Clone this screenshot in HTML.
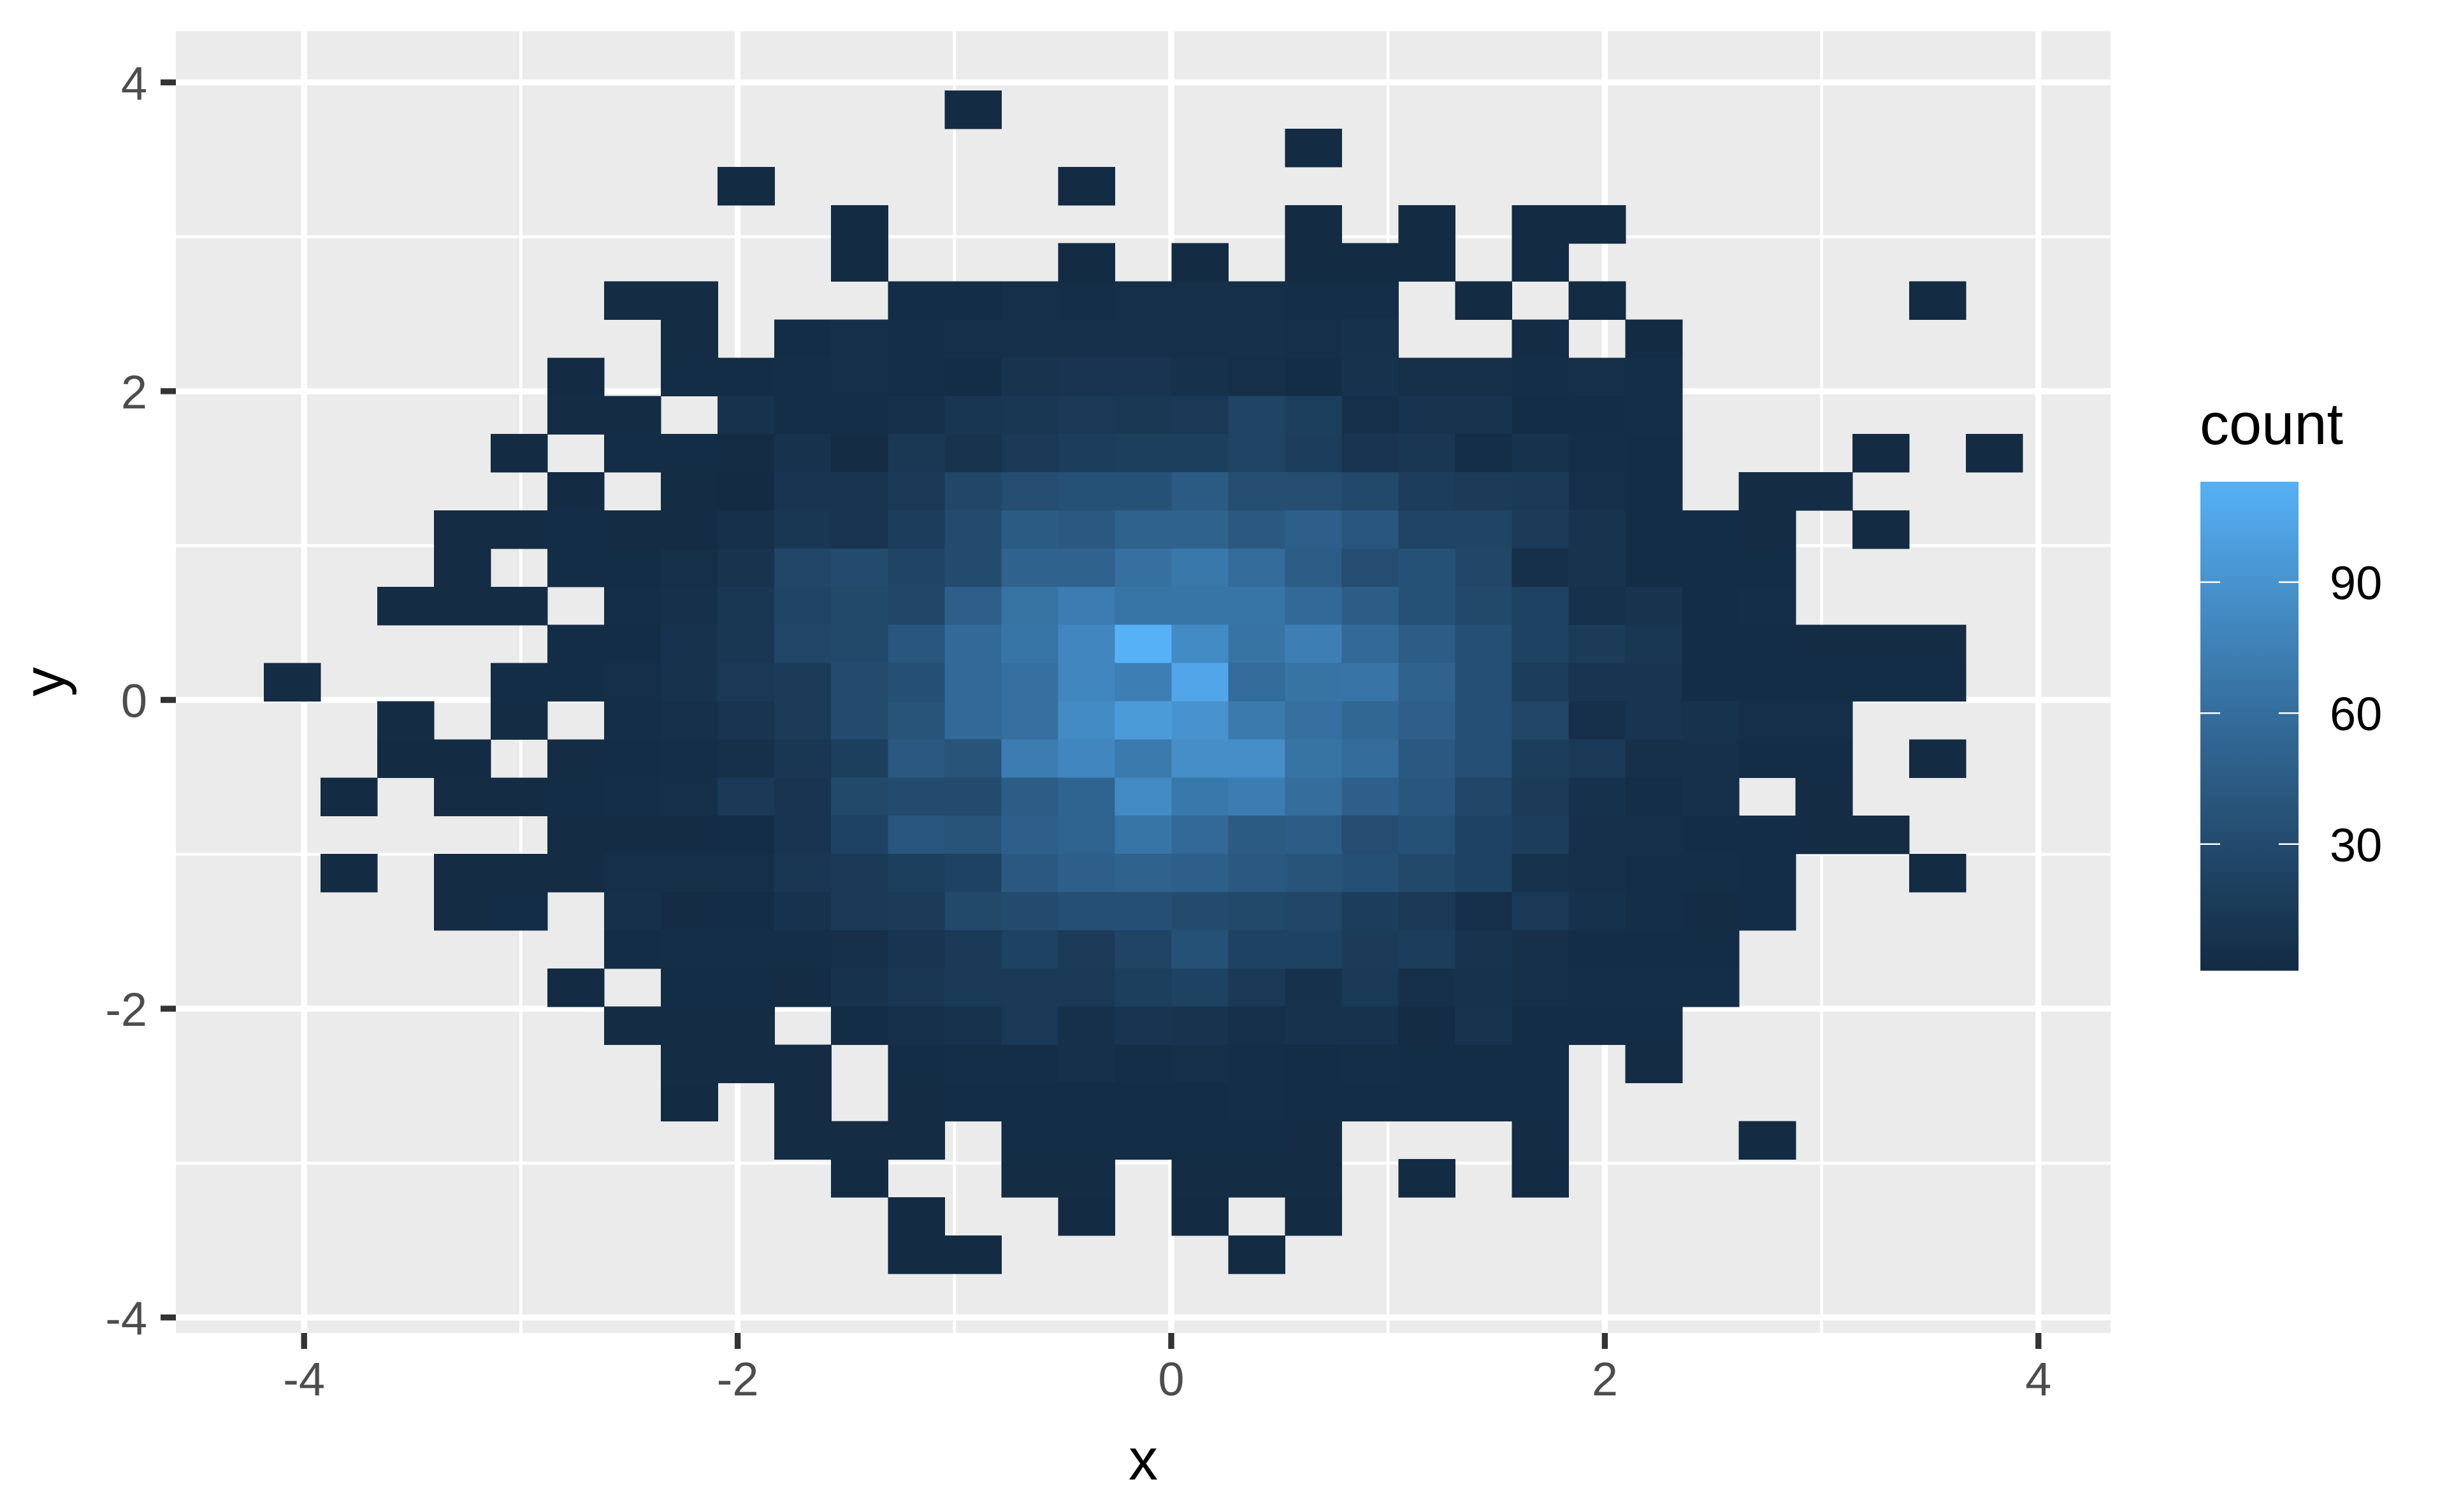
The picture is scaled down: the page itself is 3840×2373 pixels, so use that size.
<!DOCTYPE html>
<html><head><meta charset="utf-8"><style>
html,body{margin:0;padding:0;background:#fff;}
svg{display:block;}
text{font-family:"Liberation Sans",Arial,sans-serif;}
</style></head><body>
<svg id="chart" width="3840" height="2373" viewBox="0 0 3840 2373" xmlns="http://www.w3.org/2000/svg">
<rect x="0" y="0" width="3840" height="2373" fill="#ffffff"/>
<rect x="276" y="49" width="3036" height="2043" fill="#ebebeb"/>
<g id="grid"></g>
<g id="cells" shape-rendering="crispEdges"></g>
<g id="axes"></g>
<g id="legend"></g>
</svg>
<script>
// ---- data ----
const binXStart = -4.186;
const binWidth = 0.2617;
const binYTop = 3.947;
const binHeight = 0.2472;
// each row (top to bottom): [first column index, counts...] (0 = empty bin)
const rowStarts = [12,18,8,10,10,6,7,5,5,4,5,3,3,2,5,0,2,2,1,5,1,3,6,5,6,7,7,9,10,11,11];
const rowCounts = [
[1],
[1],
[1,0,0,0,0,0,1],
[1,0,0,0,0,0,0,0,1,0,1,0,1,1],
[1,0,0,0,1,0,1,0,1,1,1,0,1],
[2,2,0,0,0,3,3,5,4,5,5,5,4,4,0,1,0,1,0,0,0,0,0,1],
[2,0,3,5,4,5,6,6,6,6,6,5,7,0,0,2,0,1],
[1,0,3,3,4,5,4,3,9,10,10,7,5,3,8,5,5,4,5,4],
[2,2,0,8,4,4,6,11,12,14,13,14,24,20,6,9,9,3,3,4],
[1,0,3,3,2,8,2,13,9,14,18,20,20,24,18,10,12,4,8,4,3,0,0,0,1,0,1],
[1,0,2,1,10,10,14,26,32,36,36,44,32,32,28,18,16,14,6,3,0,2,2],
[2,2,3,2,2,6,12,10,18,30,44,42,50,50,42,48,40,24,24,16,9,3,3,2,0,1],
[2,0,3,3,5,9,26,30,24,30,50,50,62,68,58,46,32,36,26,6,9,3,3,3],
[2,2,2,0,4,6,12,24,28,26,48,64,72,66,66,66,56,46,36,28,22,7,9,3,4],
[3,3,8,12,26,28,40,56,66,80,113,84,64,74,56,46,34,22,16,12,3,3,2,2,2],
[2,0,0,0,3,3,5,8,14,16,30,34,56,62,80,74,105,58,64,65,50,34,18,10,10,3,3,3,3,3],
[2,0,2,0,4,6,10,16,30,38,56,62,84,96,90,70,62,54,48,34,26,6,10,8,5,5],
[1,1,0,2,3,4,6,12,20,42,38,72,80,70,86,86,64,58,42,34,18,14,6,6,3,3,0,1],
[1,0,2,2,3,4,5,14,10,28,30,30,46,52,84,68,72,60,48,40,26,16,7,4,6,0,2],
[2,2,2,3,10,22,40,38,48,52,66,56,44,46,32,36,22,18,6,6,3,3,2,2],
[1,0,2,2,2,5,5,5,12,14,20,22,42,48,50,48,42,38,34,28,22,8,6,4,4,3,0,0,1],
[2,3,0,6,2,3,8,14,16,28,30,34,34,30,28,26,18,14,5,14,7,4,2,3],
[3,4,4,4,5,10,14,22,16,24,36,22,22,16,18,9,6,3,3,3],
[1,0,3,3,2,8,12,14,14,14,20,22,14,7,14,6,8,5,4,4,4],
[2,2,2,0,3,6,8,14,6,10,9,6,8,8,2,9,3,3,3],
[2,2,2,0,3,4,4,6,4,5,4,3,4,3,3,3,0,2],
[1,0,2,0,2,3,3,3,3,3,4,3,3,3,3,3],
[2,2,2,0,3,3,3,3,3,2,0,0,0,2,0,0,0,1],
[1,0,0,2,2,0,2,2,2,0,1,0,1],
[1,0,0,1,0,1,0,1],
[1,1,0,0,0,0,1]
];
const xTicks = [-4,-2,0,2,4];
const xTickLabels = ["-4","-2","0","2","4"];
const yTicks = [-4,-2,0,2,4];
const yTickLabels = ["-4","-2","0","2","4"];
const xMinor = [-3,-1,1,3];
const yMinor = [-3,-1,1,3];
const legendTicks = [30,60,90];
const legendTickLabels = ["30","60","90"];

// ---- scales ----
const NS = "http://www.w3.org/2000/svg";
const PANEL = {x0:276, x1:3312, y0:49, y1:2092};
function xs(v){ return 1838 + 340.2*v; }
function ys(v){ return 1098.5 - 242.3*v; }

function hex2rgb(h){ return [parseInt(h.slice(1,3),16),parseInt(h.slice(3,5),16),parseInt(h.slice(5,7),16)]; }
function lin(c){ c/=255; return c<=0.04045? c/12.92 : Math.pow((c+0.055)/1.055,2.4); }
function unlin(c){ c = c<=0.0031308? 12.92*c : 1.055*Math.pow(c,1/2.4)-0.055; return Math.max(0,Math.min(255,Math.round(c*255))); }
function rgb2lab(rgb){
  const r=lin(rgb[0]),g=lin(rgb[1]),b=lin(rgb[2]);
  let X=(0.4124*r+0.3576*g+0.1805*b)/0.95047, Y=(0.2126*r+0.7152*g+0.0722*b), Z=(0.0193*r+0.1192*g+0.9505*b)/1.08883;
  const f=t=> t>0.008856? Math.cbrt(t) : 7.787*t+16/116;
  const fx=f(X),fy=f(Y),fz=f(Z);
  return [116*fy-16, 500*(fx-fy), 200*(fy-fz)];
}
function lab2rgb(lab){
  const fy=(lab[0]+16)/116, fx=fy+lab[1]/500, fz=fy-lab[2]/200;
  const fi=t=> t*t*t>0.008856? t*t*t : (t-16/116)/7.787;
  const X=fi(fx)*0.95047, Y=fi(fy), Z=fi(fz)*1.08883;
  const r=3.2406*X-1.5372*Y-0.4986*Z, g=-0.9689*X+1.8758*Y+0.0415*Z, b=0.0557*X-0.2040*Y+1.0570*Z;
  return "rgb("+unlin(r)+","+unlin(g)+","+unlin(b)+")";
}
const LOW = rgb2lab(hex2rgb("#132B43")), HIGH = rgb2lab(hex2rgb("#56B1F7"));
let cMin = Infinity, cMax = -Infinity;
rowCounts.forEach(r=>r.forEach(v=>{ if(v>0){cMin=Math.min(cMin,v);cMax=Math.max(cMax,v);} }));
function colour(v){
  const t = Math.max(0,Math.min(1,(v-cMin)/(cMax-cMin)));
  return lab2rgb([LOW[0]+(HIGH[0]-LOW[0])*t, LOW[1]+(HIGH[1]-LOW[1])*t, LOW[2]+(HIGH[2]-LOW[2])*t]);
}
function mk(tag, attrs, parent){
  const e=document.createElementNS(NS,tag);
  for(const k in attrs) e.setAttribute(k,attrs[k]);
  parent.appendChild(e); return e;
}

// ---- grid ----
const grid=document.getElementById('grid');
xMinor.forEach(v=>{
  const l=mk('line',{x1:xs(v),x2:xs(v),y1:PANEL.y0,y2:PANEL.y1,stroke:'#ffffff','stroke-width':4.7},grid);
  
  
});
yMinor.forEach(v=>{
  const l=mk('line',{x1:PANEL.x0,x2:PANEL.x1,y1:ys(v),y2:ys(v),stroke:'#ffffff','stroke-width':4.7},grid);
  
  
});
xTicks.forEach(v=>{
  const l=mk('line',{x1:xs(v),x2:xs(v),y1:PANEL.y0,y2:PANEL.y1,stroke:'#ffffff','stroke-width':9.4},grid);
  
  
});
yTicks.forEach(v=>{
  const l=mk('line',{x1:PANEL.x0,x2:PANEL.x1,y1:ys(v),y2:ys(v),stroke:'#ffffff','stroke-width':9.4},grid);
  
  
});

// ---- cells ----
const cells=document.getElementById('cells');
rowCounts.forEach((row,r)=>{
  const yTop=binYTop-binHeight*r, yBot=yTop-binHeight;
  row.forEach((v,i)=>{
    if(v<=0) return;
    const c=rowStarts[r]+i;
    const xl=binXStart+binWidth*c, xr=xl+binWidth;
    const px0=xs(xl), px1=xs(xr), py0=ys(yTop), py1=ys(yBot);
    const rect=mk('rect',{x:px0,y:py0,width:px1-px0+0.6,height:py1-py0+0.6,fill:colour(v)},cells);
    
    
  });
});

// ---- axes ----
const axes=document.getElementById('axes');
xTicks.forEach((v,i)=>{
  const t=mk('line',{x1:xs(v),x2:xs(v),y1:PANEL.y1,y2:PANEL.y1+25,stroke:'#333333','stroke-width':9.4},axes);
  
  
  const lb=mk('text',{x:xs(v),y:2190,'text-anchor':'middle','font-size':74,fill:'#4d4d4d'},axes);
  lb.textContent=xTickLabels[i];
  
  
});
yTicks.forEach((v,i)=>{
  const t=mk('line',{x1:PANEL.x0-24,x2:PANEL.x0,y1:ys(v),y2:ys(v),stroke:'#333333','stroke-width':9.4},axes);
  
  
  const lb=mk('text',{x:231,y:ys(v)+27,'text-anchor':'end','font-size':74,fill:'#4d4d4d'},axes);
  lb.textContent=yTickLabels[i];
  
  
});
const xt=mk('text',{x:1794,y:2322,'text-anchor':'middle','font-size':92,fill:'#000'},axes);
xt.textContent='x';


const yt=mk('text',{x:0,y:0,'text-anchor':'middle','font-size':92,fill:'#000',transform:'translate(101,1070) rotate(-90)'},axes);
yt.textContent='y';



// ---- legend ----
const lg=document.getElementById('legend');
const LB={x0:3453,x1:3607,y0:756,y1:1523.5};
const defs=mk('defs',{},lg);
const grad=mk('linearGradient',{id:'lgGrad',x1:0,y1:1,x2:0,y2:0},defs);
for(let k=0;k<=20;k++){
  const v=cMin+(cMax-cMin)*k/20;
  mk('stop',{offset:(k/20),'stop-color':colour(v)},grad);
}
const bar=mk('rect',{x:LB.x0,y:LB.y0,width:LB.x1-LB.x0,height:LB.y1-LB.y0,fill:'url(#lgGrad)'},lg);


function ly(v){ return LB.y1-(v-cMin)/(cMax-cMin)*(LB.y1-LB.y0); }
legendTicks.forEach((v,i)=>{
  const a=mk('line',{x1:LB.x0,x2:LB.x0+31,y1:ly(v),y2:ly(v),stroke:'#ffffff','stroke-width':2.5},lg);
  
  
  const b=mk('line',{x1:LB.x1-31,x2:LB.x1,y1:ly(v),y2:ly(v),stroke:'#ffffff','stroke-width':2.5},lg);
  
  
  const t=mk('text',{x:3656,y:ly(v)+27,'font-size':74,fill:'#000'},lg);
  t.textContent=legendTickLabels[i];
  
  
});
const lt=mk('text',{x:3452,y:697,'font-size':92,fill:'#000'},lg);
lt.textContent='count';


</script>
</body></html>
